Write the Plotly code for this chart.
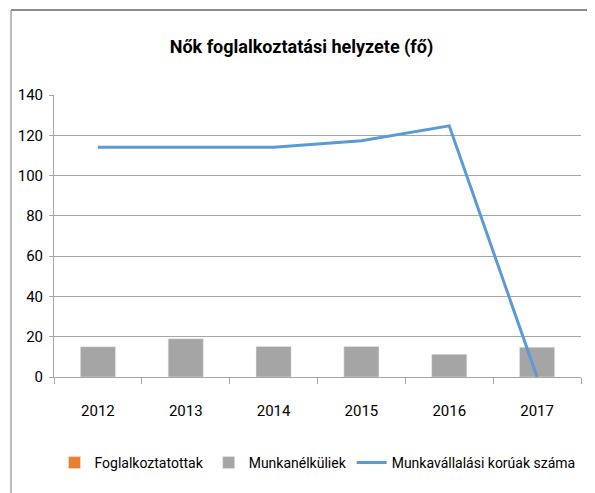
import plotly.graph_objects as go

years = ["2012", "2013", "2014", "2015", "2016", "2017"]
foglalkoztatottak = [None, None, None, None, None, None]
munkanelkuliek = [15, 19, 15.2, 15.2, 11.3, 14.8]
munkavallalasi = [114, 114, 114, 117.3, 124.7, 0]

FONT = "Roboto, Liberation Sans, sans-serif"

fig = go.Figure()
fig.add_trace(go.Bar(x=years, y=foglalkoztatottak, name="Foglalkoztatottak",
                     marker_color="#ED7D31", width=0.4))
fig.add_trace(go.Bar(x=years, y=munkanelkuliek, name="Munkanélküliek",
                     marker_color="#A5A5A5", width=0.4))
fig.add_trace(go.Scatter(x=years, y=munkavallalasi, name="Munkavállalási korúak száma",
                         mode="lines", line=dict(color="#5B9BD5", width=3)))

fig.update_layout(
    width=587, height=485,
    margin=dict(l=46, r=14, t=87, b=116, autoexpand=False),
    paper_bgcolor="white", plot_bgcolor="white",
    barmode="overlay",
    font=dict(family=FONT, size=15, color="#000000"),
    title=dict(text="<b>Nők foglalkoztatási helyzete (fő)</b>", x=0.5, xanchor="center",
               y=1 - 39/485, yanchor="middle", font=dict(size=18, family=FONT)),
    showlegend=True,
    legend=dict(orientation="h", x=0.5, xanchor="center", y=-0.305, yanchor="middle",
                font=dict(size=14, family=FONT), traceorder="normal"),
    xaxis=dict(showgrid=False, showline=True, linecolor="#A6A6A6", linewidth=1,
               ticks="outside", tickson="boundaries", ticklen=6, tickcolor="#A6A6A6",
               ticklabelstandoff=20),
    yaxis=dict(range=[0, 140], dtick=20, showgrid=True, gridcolor="#A6A6A6", gridwidth=1,
               showline=True, linecolor="#A6A6A6", linewidth=1, zeroline=False,
               ticks="outside", ticklen=4, tickcolor="#A6A6A6", ticklabelstandoff=3),
    shapes=[
        dict(type="line", xref="paper", yref="paper", x0=-43/527, x1=1.1, y0=1 + 85/282, y1=1 + 85/282,
             line=dict(color="#8C8C8C", width=2)),
        dict(type="line", xref="paper", yref="paper", x0=-43/527, x1=-43/527, y0=1 + 85/282, y1=-0.45,
             line=dict(color="#A6A6A6", width=1.5)),
    ],
)

fig.write_html("out.html")
